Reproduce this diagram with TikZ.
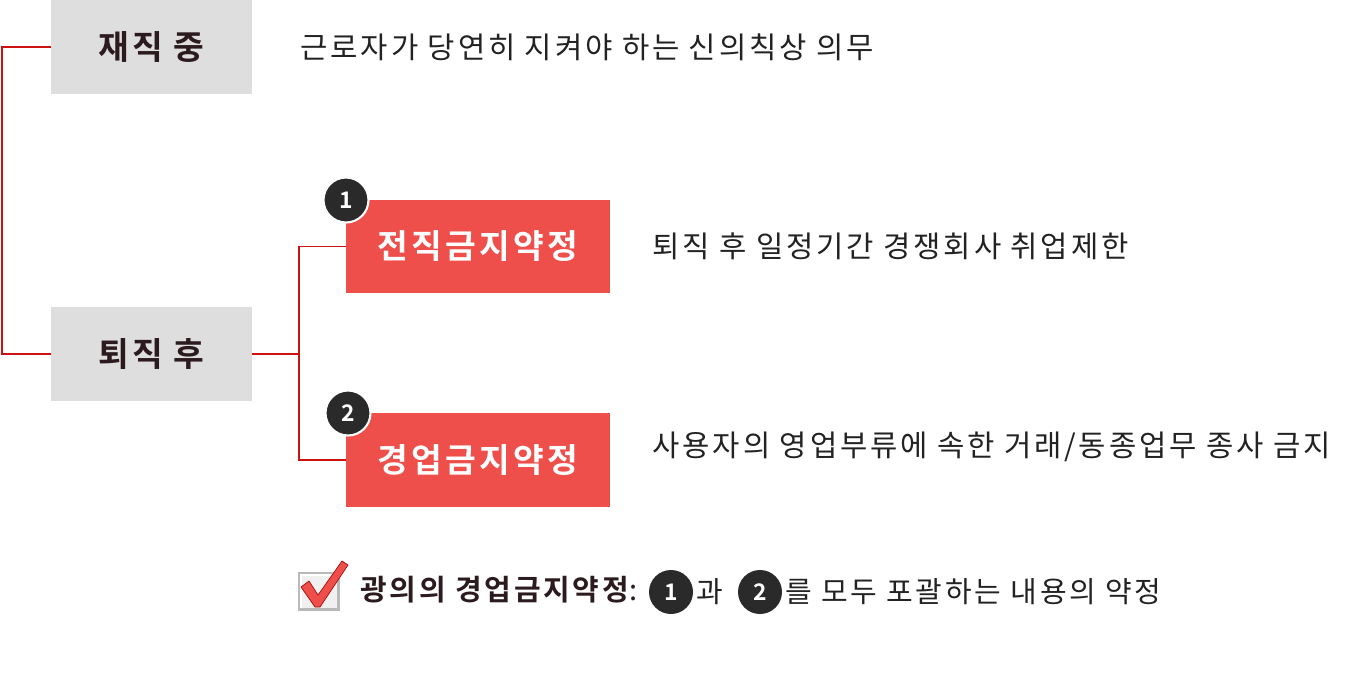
\documentclass[tikz,border=0pt]{standalone}
\usepackage{fontspec}
\setmainfont{Noto Sans CJK KR}[BoldFont={Noto Sans CJK KR Bold}, LetterSpace=9.5]
\usepackage{xcolor}
\usetikzlibrary{positioning}
\definecolor{boxgray}{HTML}{DEDEDE}
\definecolor{boxred}{HTML}{EE4F4B}
\definecolor{linered}{HTML}{CC1111}
\definecolor{inkdark}{HTML}{2B1A1E}
\definecolor{numdark}{HTML}{2A2A2A}
\definecolor{textdark}{HTML}{222222}

\begin{document}
\begin{tikzpicture}[x=0.02cm,y=-0.02cm,
    graybox/.style={fill=boxgray, minimum width=4.02cm, minimum height=1.88cm,
      inner sep=0pt, text=inkdark, font=\fontsize{19}{22}\selectfont\bfseries},
    redbox/.style={fill=boxred, minimum width=5.28cm, minimum height=1.87cm,
      inner sep=0pt, text=white, font=\fontsize{19}{22}\selectfont\bfseries},
    numcirc/.style={circle, fill=numdark, draw=white, line width=1.2pt,
      minimum size=0.9cm, inner sep=0pt, text=white,
      font=\fontsize{13}{15}\selectfont\bfseries},
    redline/.style={draw=linered, line width=1.1pt},
    desc/.style={inner sep=0pt, text=textdark, font=\fontsize{16.9}{20}\selectfont},
    sumtext/.style={inner sep=0pt, text=textdark, font=\fontsize{16.5}{20}\selectfont}]
  \useasboundingbox (0,0) rectangle (1372,676);

  % left column
  \node[graybox] (during) at (151.5,47) {재직 중};
  \node[graybox] (after) at (151.5,354) {퇴직 후};
  \draw[redline] (during.west) -- ++(-49,0) |- (after.west);

  % fork to the two agreements
  \coordinate (fork) at (299,354);
  \draw[redline] (after.east) -- (fork);
  \node[redbox] (jeonjik) at (478,246.5) {전직금지약정};
  \node[redbox] (gyeongeop) at (478,460) {경업금지약정};
  \draw[redline] (jeonjik.west) -| (fork) |- (gyeongeop.west);
  \node[numcirc] (numA) at (346,200) {1};
  \node[numcirc] (numB) at (348,413) {2};

  % descriptions
  \node[desc, right=0.96cm of during] (dutyA) {근로자가 당연히 지켜야 하는 신의칙상 의무};
  \node[desc, right=0.84cm of jeonjik] (dutyB) {퇴직 후 일정기간 경쟁회사 취업제한};
  \node[desc, right=0.84cm of gyeongeop, yshift=0.26cm] (dutyC) {사용자의 영업부류에 속한 거래/동종업무 종사 금지};

  % summary line with check mark
  \fill[gray!55] (298,572) rectangle (340,611);
  \fill[gray!12] (301,575) rectangle (337,608);
  \draw[white, line width=0.6pt] (301,608) -- (301,575) -- (337,575);
  \filldraw[fill=boxred, draw=linered!80!black, line width=0.4pt]
    (301,587) -- (309,581) -- (318,595) -- (342,561) -- (348,565) -- (320,607) -- (315,607) -- cycle;
  \node[sumtext, anchor=west, text=inkdark, font=\fontsize{16.5}{20}\selectfont\bfseries] (sumhead) at (360,590) {광의의 경업금지약정\mdseries:};
  \node[numcirc, draw=none, minimum size=0.88cm] (numC) at (671,592) {1};
  \node[sumtext, right=1pt of numC] (sumand) {과};
  \node[numcirc, draw=none, minimum size=0.88cm] (numD) at (760,592) {2};
  \node[sumtext, right=1pt of numD] (sumtail) {를 모두 포괄하는 내용의 약정};
\end{tikzpicture}
\end{document}
